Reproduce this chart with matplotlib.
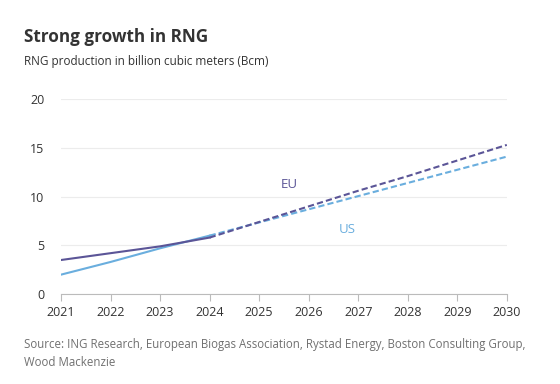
import matplotlib.pyplot as plt

plt.rcParams['font.family'] = ['Open Sans', 'DejaVu Sans']

years_hist = [2021, 2022, 2023, 2024]
eu_hist = [3.5, 4.2, 4.9, 5.8]
us_hist = [2.0, 3.3, 4.7, 6.0]

years_proj = [2024, 2025, 2026, 2027, 2028, 2029, 2030]
eu_proj = [5.8, 7.4, 9.0, 10.6, 12.1, 13.7, 15.3]
us_proj = [6.0, 7.35, 8.7, 10.05, 11.4, 12.75, 14.1]

eu_col = '#5b5597'
us_col = '#6aaede'

fig = plt.figure(figsize=(5.6, 3.84), dpi=100)
ax = fig.add_axes([0.109, 0.234, 0.796, 0.508])

ax.plot(years_hist, us_hist, color=us_col, lw=1.5)
ax.plot(years_hist, eu_hist, color=eu_col, lw=1.5)
ax.plot(years_proj, us_proj, color=us_col, lw=1.5, ls=(0, (3, 1.5)))
ax.plot(years_proj, eu_proj, color=eu_col, lw=1.5, ls=(0, (3, 1.5)))

ax.text(2025.43, 10.9, 'EU', color=eu_col, fontsize=9.5)
ax.text(2026.6, 6.3, 'US', color=us_col, fontsize=9.5)

ax.set_xlim(2021, 2030)
ax.set_ylim(0, 20)
ax.set_xticks(range(2021, 2031))
ax.set_yticks([0, 5, 10, 15, 20])
ax.grid(axis='y', color='#ececec', lw=0.8)
ax.set_axisbelow(True)
for s in ['top', 'right', 'left']:
    ax.spines[s].set_visible(False)
ax.spines['bottom'].set_color('#bbbbbb')
ax.tick_params(axis='x', colors='#bbbbbb', length=5, labelcolor='#333333', labelsize=9)
ax.tick_params(axis='y', length=0, pad=12, labelcolor='#333333', labelsize=9)

fig.text(0.043, 0.89, 'Strong growth in RNG', fontsize=12.3, fontweight='bold', color='#333333')
fig.text(0.043, 0.83, 'RNG production in billion cubic meters (Bcm)', fontsize=8.5, color='#333333')
fig.text(0.043, 0.047, 'Source: ING Research, European Biogas Association, Rystad Energy, Boston Consulting Group,\nWood Mackenzie',
         fontsize=8.3, color='#707070', linespacing=1.5)

fig.savefig('out.png', dpi=100)
